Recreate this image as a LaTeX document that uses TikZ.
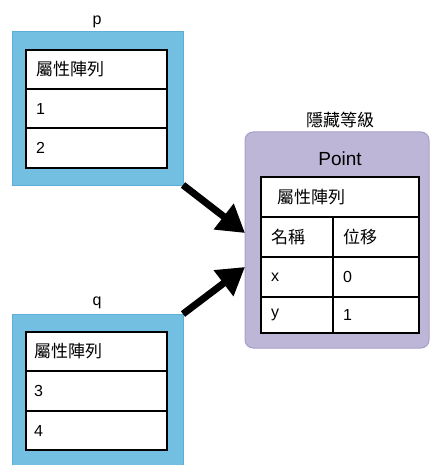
\documentclass[tikz,border=0pt]{standalone}
\usepackage{fontspec}
\setmainfont{Liberation Sans}
\newfontfamily\cjk{Noto Sans CJK TC}
\usetikzlibrary{arrows.meta}

\definecolor{bluefill}{HTML}{72BFE1}
\definecolor{blueedge}{HTML}{5EAED6}
\definecolor{purplefill}{HTML}{BEB6D7}
\definecolor{purpleedge}{HTML}{A89ECA}

\tikzset{
  objbox/.style={draw=blueedge, fill=bluefill, line width=1pt, anchor=north west,
    inner sep=0pt, outer sep=0pt, minimum width=171pt},
  classbox/.style={draw=purpleedge, fill=purplefill, line width=1pt, anchor=north west,
    inner sep=0pt, outer sep=0pt, rounded corners=8pt, minimum width=184pt, minimum height=216pt},
  cell/.style={draw=black, fill=white, line width=1.2pt, anchor=north west,
    inner ysep=0pt, outer sep=0pt, align=left, font=\fontsize{16}{19}\selectfont},
  zh/.style={font=\fontsize{17}{20}\selectfont\cjk},
  title/.style={font=\fontsize{16}{19}\selectfont, inner sep=0pt},
  ref/.style={line width=7pt, -{Triangle[length=27pt,width=31pt]}}
}

\begin{document}
\begin{tikzpicture}[x=1pt,y=-1pt]
\useasboundingbox (0,0) rectangle (430,465);

% object p
\node[title] (plabel) at (97,22) {p};
\node[objbox, minimum height=153pt] (pbox) at (12,32) {};
\node[cell, minimum height=39pt, text width=121pt, inner xsep=10pt] (p0) at (26,50) {\cjk\fontsize{17}{20}\selectfont 屬性陣列};
\node[cell, minimum height=39pt, text width=121pt, inner xsep=10pt] (p1) at (26,89) {1};
\node[cell, minimum height=40pt, text width=121pt, inner xsep=10pt] (p2) at (26,128) {2};

% object q
\node[title] (qlabel) at (97,303) {q};
\node[objbox, minimum height=152pt] (qbox) at (12,314) {};
\node[cell, minimum height=39pt, text width=125pt, inner xsep=8pt] (q0) at (26,332) {\cjk\fontsize{17}{20}\selectfont 屬性陣列};
\node[cell, minimum height=40pt, text width=125pt, inner xsep=8pt] (q1) at (26,371) {3};
\node[cell, minimum height=39pt, text width=125pt, inner xsep=8pt] (q2) at (26,411) {4};

% hidden class
\node[zh, inner sep=0pt] (hlabel) at (340,120) {隱藏等級};
\node[classbox] (cbox) at (245,132) {};
\node[font=\fontsize{19}{22}\selectfont, inner sep=0pt] (cname) at (340,159) {Point};
\node[cell, minimum height=40pt, text width=126pt, inner xsep=16pt] (c0) at (261,177) {\cjk\fontsize{17}{20}\selectfont 屬性陣列};
\node[cell, minimum height=40pt, text width=52pt, inner xsep=10pt] (c1a) at (261,217) {\cjk\fontsize{17}{20}\selectfont 名稱};
\node[cell, minimum height=40pt, text width=66pt, inner xsep=10pt] (c1b) at (333,217) {\cjk\fontsize{17}{20}\selectfont 位移};
\node[cell, minimum height=40pt, text width=52pt, inner xsep=10pt] (c2a) at (261,257) {x};
\node[cell, minimum height=40pt, text width=66pt, inner xsep=10pt] (c2b) at (333,257) {0};
\node[cell, minimum height=36pt, text width=52pt, inner xsep=10pt] (c3a) at (261,297) {y};
\node[cell, minimum height=36pt, text width=66pt, inner xsep=10pt] (c3b) at (333,297) {1};

% references to the hidden class
\coordinate (tipp) at (245,233);
\coordinate (tipq) at (245,267);
\draw[ref] (pbox.south east) -- (tipp);
\draw[ref] (qbox.north east) -- (tipq);
\end{tikzpicture}
\end{document}
